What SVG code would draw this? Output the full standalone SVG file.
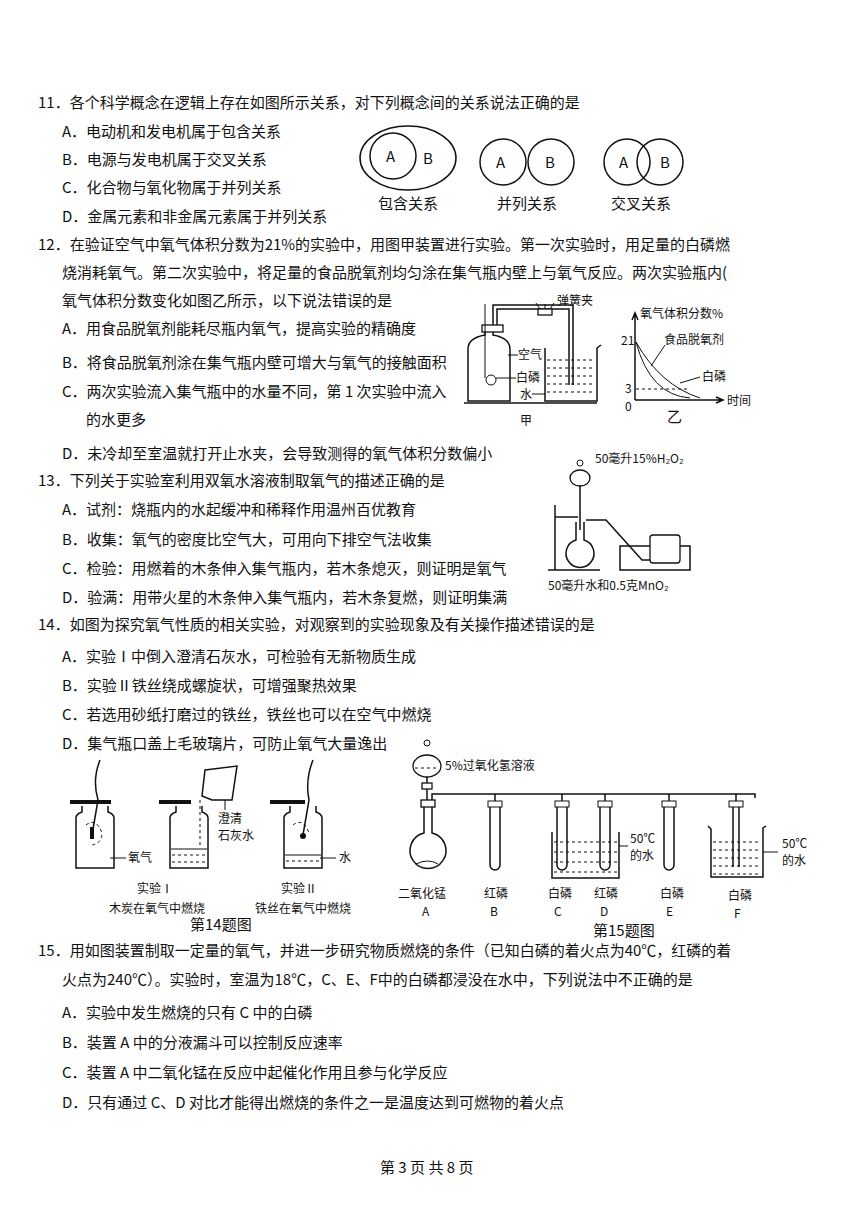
<svg xmlns="http://www.w3.org/2000/svg" width="867" height="1227" viewBox="0 0 867 1227">
<style>
text{font-family:"Noto Sans CJK SC","Liberation Sans",sans-serif;font-size:15px;fill:#111}
.s{font-size:12px}
.l{fill:none;stroke:#111;stroke-width:1.5}
.t{fill:none;stroke:#111;stroke-width:1}
.w{fill:#fff;stroke:#111;stroke-width:1.3}
.d{fill:none;stroke:#111;stroke-width:1;stroke-dasharray:3 3}
</style>
<rect width="867" height="1227" fill="#fff"/>
<g id="q11">
<text x="38" y="108">11．各个科学概念在逻辑上存在如图所示关系，对下列概念间的关系说法正确的是</text>
<text x="62" y="137">A．电动机和发电机属于包含关系</text>
<text x="62" y="165">B．电源与发电机属于交叉关系</text>
<text x="62" y="193">C．化合物与氧化物属于并列关系</text>
<text x="62" y="222">D．金属元素和非金属元素属于并列关系</text>
</g>
<g id="fig11">
<ellipse class="l" cx="408" cy="158" rx="48" ry="32"/>
<circle class="l" cx="393" cy="156" r="23"/>
<text x="386" y="162">A</text><text x="423" y="164">B</text>
<circle class="l" cx="503" cy="162" r="23"/><circle class="l" cx="551" cy="162" r="23"/>
<text x="496" y="168">A</text><text x="545" y="168">B</text>
<circle class="l" cx="627" cy="162" r="23"/><circle class="l" cx="660" cy="162" r="23"/>
<text x="619" y="168">A</text><text x="660" y="168">B</text>
<text x="378" y="209" font-size="14">包含关系</text>
<text x="497" y="209" font-size="14">并列关系</text>
<text x="611" y="209" font-size="14">交叉关系</text>
</g>
<g id="q12">
<text x="38" y="250">12．在验证空气中氧气体积分数为21%的实验中，用图甲装置进行实验。第一次实验时，用足量的白磷燃</text>
<text x="62" y="278">烧消耗氧气。第二次实验中，将足量的食品脱氧剂均匀涂在集气瓶内壁上与氧气反应。两次实验瓶内(</text>
<text x="62" y="306">氧气体积分数变化如图乙所示，以下说法错误的是</text>
<text x="62" y="334">A．用食品脱氧剂能耗尽瓶内氧气，提高实验的精确度</text>
<text x="62" y="368">B．将食品脱氧剂涂在集气瓶内壁可增大与氧气的接触面积</text>
<text x="62" y="397">C．两次实验流入集气瓶中的水量不同，第 1 次实验中流入</text>
<text x="86" y="425">的水更多</text>
<text x="62" y="459">D．未冷却至室温就打开止水夹，会导致测得的氧气体积分数偏小</text>
</g>
<g id="fig12a">
<line class="l" x1="464" y1="403" x2="597" y2="403"/>
<path class="l" d="M485,328 v7 q-17,3 -17,14 v52 h42 v-52 q0,-11 -17,-14 v-7"/>
<rect class="w" x="482" y="325" width="21" height="7"/>
<line class="t" x1="485" y1="304" x2="485" y2="378"/>
<circle class="t" cx="491" cy="380" r="5"/>
<path class="l" d="M493,325 v-20 h80 v80" />
<path class="l" d="M497,325 v-16 h72 v76" />
<rect class="w" x="538" y="309" width="14" height="6"/>
<path class="t" d="M540,309 l-4,-6 M550,309 l4,-6 M545,309 v-5"/>
<text class="s" x="557" y="305">弹簧夹</text>
<path class="l" d="M545,348 v53 h52 v-53 l4,-3"/>
<path class="d" d="M547,360 h48 M547,368 h48 M547,376 h48 M547,384 h48 M547,392 h48"/>
<line class="t" x1="508" y1="355" x2="518" y2="355"/><text class="s" x="518" y="359">空气</text>
<line class="t" x1="496" y1="378" x2="516" y2="378"/><text class="s" x="516" y="382">白磷</text>
<line class="t" x1="532" y1="394" x2="545" y2="394"/><text class="s" x="520" y="399">水</text>
<text x="520" y="425" class="s">甲</text>
</g>
<g id="fig12b">
<path class="l" d="M635,400 V314 M632,320 l3,-7 l3,7 M635,400 H722 M716,397 l7,3 l-7,3"/>
<text class="s" x="640" y="318">氧气体积分数%</text>
<text class="s" x="621" y="345">21</text><text class="s" x="625" y="393">3</text><text class="s" x="625" y="411">0</text>
<path class="t" d="M636,342 Q650,395 690,398"/>
<path class="t" d="M636,342 Q660,385 700,398"/>
<line class="d" x1="636" y1="389" x2="690" y2="389"/>
<line class="t" x1="651" y1="366" x2="665" y2="345"/><text class="s" x="664" y="344">食品脱氧剂</text>
<line class="t" x1="680" y1="383" x2="700" y2="377"/><text class="s" x="702" y="381">白磷</text>
<text class="s" x="727" y="405">时间</text>
<text x="667" y="422">乙</text>
</g>
<g id="q13">
<text x="38" y="486">13．下列关于实验室利用双氧水溶液制取氧气的描述正确的是</text>
<text x="62" y="515">A．试剂：烧瓶内的水起缓冲和稀释作用温州百优教育</text>
<text x="62" y="545">B．收集：氧气的密度比空气大，可用向下排空气法收集</text>
<text x="62" y="574">C．检验：用燃着的木条伸入集气瓶内，若木条熄灭，则证明是氧气</text>
<text x="62" y="603">D．验满：用带火星的木条伸入集气瓶内，若木条复燃，则证明集满</text>
</g>
<g id="fig13">
<text class="s" x="595" y="463">50毫升15%H₂O₂</text>
<circle class="t" cx="580" cy="463" r="3"/>
<ellipse class="w" cx="580" cy="478" rx="10" ry="8"/>
<line class="l" x1="580" y1="486" x2="580" y2="530"/>
<line class="l" x1="555" y1="570" x2="555" y2="505"/>
<line class="l" x1="548" y1="570" x2="600" y2="570"/>
<line class="l" x1="555" y1="517" x2="578" y2="517"/>
<path class="l" d="M576,522 v18 a14,14 0 1 0 8,0 v-18"/>
<path class="l" d="M586,520 h20 l36,40 h15 v-8"/>
<path class="l" d="M620,546 h70 v24 h-70 z"/>
<rect class="w" x="650" y="535" width="30" height="28" rx="3"/>
<text class="s" x="548" y="590">50毫升水和0.5克MnO₂</text>
</g>
<g id="q14">
<text x="38" y="630">14．如图为探究氧气性质的相关实验，对观察到的实验现象及有关操作描述错误的是</text>
<text x="62" y="662">A．实验Ⅰ中倒入澄清石灰水，可检验有无新物质生成</text>
<text x="62" y="691">B．实验Ⅱ铁丝绕成螺旋状，可增强聚热效果</text>
<text x="62" y="720">C．若选用砂纸打磨过的铁丝，铁丝也可以在空气中燃烧</text>
<text x="62" y="749">D．集气瓶口盖上毛玻璃片，可防止氧气大量逸出</text>
</g>
<g id="fig14">
<rect x="70" y="800" width="41" height="4" fill="#111"/>
<path class="l" d="M82,806 v6 q-6,2 -6,6 v50 h38 v-50 q0,-4 -6,-6 v-6"/>
<path class="l" d="M100,760 q-8,20 -2,40 l-6,35"/><rect x="90" y="827" width="4" height="12" fill="#111"/>
<path class="d" d="M86,825 q10,-8 16,8 q0,10 -10,12"/>
<line class="t" x1="110" y1="858" x2="126" y2="858"/><text class="s" x="128" y="862">氧气</text>
<rect x="159" y="800" width="32" height="4" fill="#111"/>
<path class="l" d="M176,806 v6 q-6,2 -6,6 v50 h38 v-50 q0,-4 -6,-6 v-6"/>
<line class="t" x1="171" y1="849" x2="207" y2="849"/><path class="d" d="M172,855 h34 M172,862 h34"/>
<path class="l" d="M205,770 l32,-4 l-5,34 h-20 l-10,-4 z"/>
<path class="d" d="M200,800 v45"/>
<line class="t" x1="225" y1="800" x2="225" y2="810"/>
<text class="s" x="218" y="823">澄清</text><text class="s" x="218" y="840">石灰水</text>
<text class="s" x="137" y="893">实验Ⅰ</text><text class="s" x="109" y="913">木炭在氧气中燃烧</text>
<rect x="270" y="800" width="35" height="4" fill="#111"/>
<path class="l" d="M290,806 v6 q-6,2 -6,6 v50 h38 v-50 q0,-4 -6,-6 v-6"/>
<path class="l" d="M313,760 q-8,20 -4,40 l-6,35"/><circle cx="303" cy="836" r="3" fill="#111"/>
<path class="d" d="M293,825 q10,-8 16,8"/>
<line class="t" x1="285" y1="855" x2="321" y2="855"/><path class="d" d="M286,861 h34"/>
<line class="t" x1="320" y1="858" x2="336" y2="858"/><text class="s" x="339" y="862">水</text>
<text class="s" x="281" y="893">实验Ⅱ</text><text class="s" x="255" y="913">铁丝在氧气中燃烧</text>
<text x="190" y="930">第14题图</text>
</g>
<g id="fig15">
<circle class="t" cx="427" cy="743" r="3"/>
<ellipse class="w" cx="427" cy="766" rx="14" ry="11"/>
<path class="d" d="M415,768 h24"/>
<text class="s" x="445" y="770">5%过氧化氢溶液</text>
<line class="l" x1="427" y1="777" x2="427" y2="800"/><rect class="w" x="422" y="783" width="10" height="6"/>
<rect class="w" x="421" y="800" width="14" height="7"/>
<path class="l" d="M424,807 v26 a18,18 0 1 0 8,0 v-26"/>
<path class="t" d="M416,864 q12,-6 22,0"/>
<path class="l" d="M432,800 v-6 h323 v4"/>
<g fill="#fff" stroke="#111"><rect x="488" y="801" width="14" height="6"/><rect x="555" y="801" width="14" height="6"/><rect x="598" y="801" width="14" height="6"/><rect x="662" y="801" width="14" height="6"/><rect x="729" y="801" width="14" height="6"/></g>
<path class="l" d="M490,807 v58 a5,5 0 0 0 10,0 v-58 M557,807 v58 a5,5 0 0 0 10,0 v-58 M600,807 v58 a5,5 0 0 0 10,0 v-58 M664,807 v58 a5,5 0 0 0 10,0 v-58"/>
<path class="l" d="M733,807 v60 M739,807 v60"/>
<path class="l" d="M495,801 v-7 M562,801 v-7 M605,801 v-7 M669,801 v-7 M736,801 v-7"/>
<path class="l" d="M552,832 v46 h67 v-46"/>
<path class="d" d="M554,842 h63 M554,852 h63 M554,862 h63 M554,872 h63"/>
<line class="t" x1="619" y1="846" x2="628" y2="846"/>
<text class="s" x="630" y="843">50℃</text><text class="s" x="630" y="860">的水</text>
<path class="l" d="M708,826 l3,3 v48 h52 v-49 l3,-2"/>
<path class="d" d="M713,842 h48 M713,850 h48 M713,858 h48 M713,866 h48 M713,874 h48"/>
<line class="t" x1="763" y1="852" x2="778" y2="852"/>
<text class="s" x="782" y="848">50℃</text><text class="s" x="782" y="865">的水</text>
<text class="s" x="398" y="898">二氧化锰</text><text class="s" x="422" y="916">A</text>
<text class="s" x="484" y="898">红磷</text><text class="s" x="490" y="916">B</text>
<text class="s" x="548" y="898">白磷</text><text class="s" x="554" y="916">C</text>
<text class="s" x="594" y="898">红磷</text><text class="s" x="600" y="916">D</text>
<text class="s" x="660" y="898">白磷</text><text class="s" x="666" y="916">E</text>
<text class="s" x="728" y="900">白磷</text><text class="s" x="734" y="918">F</text>
<text x="593" y="936">第15题图</text>
</g>
<g id="q15">
<text x="38" y="956">15．用如图装置制取一定量的氧气，并进一步研究物质燃烧的条件（已知白磷的着火点为40℃，红磷的着</text>
<text x="62" y="985">火点为240℃）。实验时，室温为18℃，C、E、F中的白磷都浸没在水中，下列说法中不正确的是</text>
<text x="62" y="1018">A．实验中发生燃烧的只有 C 中的白磷</text>
<text x="62" y="1048">B．装置 A 中的分液漏斗可以控制反应速率</text>
<text x="62" y="1078">C．装置 A 中二氧化锰在反应中起催化作用且参与化学反应</text>
<text x="62" y="1108">D．只有通过 C、D 对比才能得出燃烧的条件之一是温度达到可燃物的着火点</text>
</g>
<text x="380" y="1173" font-size="13">第 3 页 共 8 页</text>
</svg>
